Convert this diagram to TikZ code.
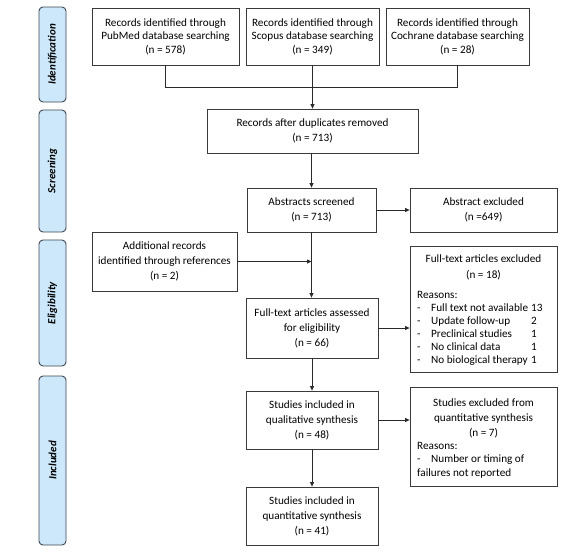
\documentclass[tikz,border=0pt]{standalone}
\usepackage{fontspec}
\setmainfont{Carlito}
\usetikzlibrary{arrows.meta}
\definecolor{boxgray}{HTML}{3A3A3A}
\definecolor{linegray}{HTML}{2A2A2A}
\definecolor{bandblue}{HTML}{CDE8FB}
\definecolor{bandborder}{HTML}{3F4850}
\begin{document}
\begin{tikzpicture}[x=1pt,y=-1pt,
 box/.style={draw=boxgray, line width=0.8pt, inner sep=0pt, align=center, font=\fontsize{11.2}{15}\selectfont},
 topbox/.style={box, font=\fontsize{11.2}{13.5}\selectfont},
 txt/.style={inner sep=0pt, font=\fontsize{11.2}{15.5}\selectfont},
 band/.style={draw=bandborder, fill=bandblue, rounded corners=4pt, line width=0.9pt, minimum width=27pt, inner sep=0pt},
 bandtext/.style={rotate=90, inner sep=0pt, font=\fontsize{11}{12}\selectfont\bfseries\itshape},
 arr/.style={-{Triangle[length=4.5pt,width=4pt]}, line width=0.8pt, draw=linegray},
 ln/.style={line width=0.8pt, draw=linegray}]
\useasboundingbox (0,0) rectangle (576,555);
% bands
\node[band, minimum height=95pt] (bI) at (52.5,54.5) {};
\node[bandtext] (tI) at (bI.center) {Identification};
\node[band, minimum height=122pt] (bS) at (52.5,171) {};
\node[bandtext] (tS) at (bS.center) {Screening};
\node[band, minimum height=126pt] (bE) at (52.5,303) {};
\node[bandtext] (tE) at (bE.center) {Eligibility};
\node[band, minimum height=169pt] (bN) at (52.5,460.5) {};
\node[bandtext] (tN) at (bN.center) {Included};
% boxes
\node[topbox, minimum width=147pt, minimum height=57pt] (pub) at (165.5,36.5)
 {Records identified through\\PubMed database searching\\(n = 578)};
\node[topbox, minimum width=133pt, minimum height=57pt] (sco) at (312.5,36.5)
 {Records identified through\\Scopus database searching\\(n = 349)};
\node[topbox, minimum width=143pt, minimum height=57pt] (coc) at (457.5,36.5)
 {Records identified through\\Cochrane database searching\\(n = 28)};
\node[box, minimum width=211pt, minimum height=44pt] (dup) at (312.5,131)
 {Records after duplicates removed\\(n = 713)};
\node[box, minimum width=129pt, minimum height=44pt] (abs) at (311.5,210)
 {Abstracts screened\\(n = 713)};
\node[box, minimum width=147pt, minimum height=44pt] (absx) at (483.5,210)
 {Abstract excluded\\(n =649)};
\node[box, minimum width=145pt, minimum height=59pt] (add) at (164.5,261.5)
 {Additional records\\identified through references\\(n = 2)};
\node[box, minimum width=132pt, minimum height=60pt] (ft) at (312,328)
 {Full-text articles assessed\\for eligibility\\(n = 66)};
\node[box, minimum width=147pt, minimum height=126pt] (ftx) at (483.5,309) {};
\node[txt, align=center, anchor=north] (ftxt) at (483.5,255)
 {Full-text articles excluded\\(n = 18)};
\node[txt, anchor=north west, font=\fontsize{11.2}{13}\selectfont] (ftxr) at (417,289.5)
 {\begin{tabular}{@{}p{14pt}@{}l@{\hspace{3pt}}l@{}}
 \multicolumn{3}{@{}l}{Reasons:}\\
 - & Full text not available & 13\\
 - & Update follow-up & 2\\
 - & Preclinical studies & 1\\
 - & No clinical data & 1\\
 - & No biological therapy & 1
 \end{tabular}};
\node[box, minimum width=132pt, minimum height=58pt] (qual) at (312,420)
 {Studies included in\\qualitative synthesis\\(n = 48)};
\node[box, minimum width=147pt, minimum height=99pt] (qx) at (483.5,436.5) {};
\node[txt, align=center, anchor=north, font=\fontsize{11.2}{15}\selectfont] (qxt) at (483.5,398.5)
 {Studies excluded from\\quantitative synthesis\\(n = 7)};
\node[txt, anchor=north west, font=\fontsize{11.2}{13.5}\selectfont, align=left] (qxr) at (417,442)
 {Reasons:\\\makebox[14pt][l]{-}Number or timing of\\failures not reported};
\node[box, minimum width=132pt, minimum height=58pt] (quan) at (312,516)
 {Studies included in\\quantitative synthesis\\(n = 41)};
% connectors
\coordinate (jL) at (pub.south |- 0,87);
\coordinate (jR) at (coc.south |- 0,87);
\draw[ln] (pub.south) -- (jL) -- (jR) -- (coc.south);
\draw[arr] (sco.south) -- (dup.north -| sco.south);
\draw[arr] (dup.south -| abs.north) -- (abs.north);
\draw[arr] (abs.east) -- (absx.west);
\draw[arr] (abs.south) -- (ft.north -| abs.south);
\draw[arr] (add.east) -- (add.east -| abs.south);
\draw[arr] (ft.east) -- (ft.east -| ftx.west);
\draw[arr] (ft.south) -- (qual.north);
\draw[arr] (qual.east) -- (qual.east -| qx.west);
\draw[arr] (qual.south) -- (quan.north);
\end{tikzpicture}
\end{document}
